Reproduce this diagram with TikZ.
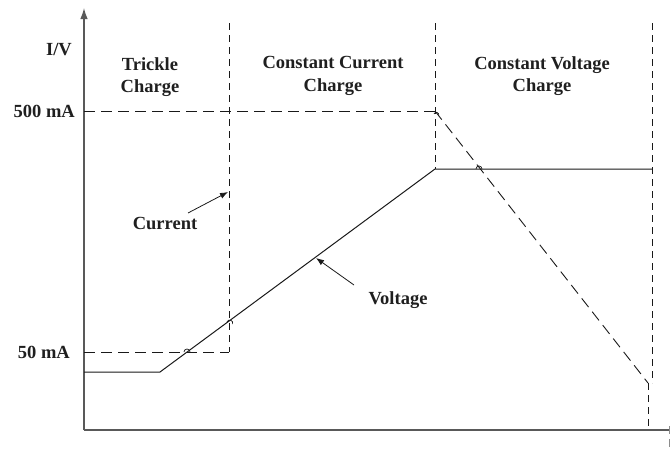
\documentclass[tikz,border=0pt]{standalone}
\usepackage{fontspec}
\setmainfont{Liberation Serif}
\usetikzlibrary{arrows.meta}
\tikzset{
  axis/.style={draw=black!65, line width=1.3pt},
  dsh/.style={draw=black!90, line width=0.9pt, dash pattern=on 7pt off 5pt},
  cdsh/.style={draw=black!90, line width=0.9pt, dash pattern=on 11pt off 6pt},
  volt/.style={draw=black!90, line width=1pt},
  lbl/.style={font=\fontsize{18.5}{22.5}\selectfont\bfseries, text=black!88, align=center, inner sep=0pt},
  pointer/.style={draw=black!90, line width=0.8pt, -{Latex[length=8pt,width=6pt]}},
  hop/.style={draw=black!90, line width=0.7pt},
  frag/.style={draw=black!45, line width=0.6pt}
}
\begin{document}
\begin{tikzpicture}[x=1pt,y=-1pt]
\useasboundingbox (0,0) rectangle (670,450);
% coordinates
\coordinate (O) at (84,430);
\coordinate (Ytop) at (84,8);
\coordinate (Xend) at (670,430);
\coordinate (s1t) at (229,23);
\coordinate (s1b) at (229,352);
\coordinate (s2t) at (435,23);
\coordinate (s2b) at (435,169);
\coordinate (s3t) at (652,23);
\coordinate (s3b) at (652,383);
\coordinate (i0) at (84,352);
\coordinate (i5) at (84,111);
\coordinate (i5e) at (435,111);
\coordinate (id) at (648,383);
\coordinate (ie) at (648,430);
\coordinate (v0) at (84,372);
\coordinate (v1) at (160,372);
\coordinate (v2) at (435,169);
\coordinate (v3) at (652,169);
% axes
\draw[axis] (O) -- (Xend);
\draw[axis, -{Latex[length=11pt,width=7.5pt]}] (O) -- (Ytop);
% small fragments at the right edge
\coordinate (f1a) at (669,426);
\coordinate (f1b) at (669,434);
\coordinate (f2a) at (669,439);
\coordinate (f2b) at (669,447);
\draw[frag] (f1a) -- (f1b);
\draw[frag] (f2a) -- (f2b);
% phase separators
\draw[dsh] (s1t) -- (s1b);
\draw[dsh] (s2t) -- (s2b);
\draw[dsh] (s3t) -- (s3b);
% current
\draw[cdsh] (i0) -- (s1b);
\draw[cdsh] (i5) -- (i5e);
\draw[cdsh] (i5e) -- (id);
\draw[dsh] (id) -- (ie);
% voltage
\draw[volt] (v0) -- (v1) -- (v2) -- (v3);
% hops
\draw[hop] (184,352) arc[start angle=180,end angle=360,radius=3];
\draw[hop] (227,322) arc[start angle=200,end angle=380,radius=3];
\draw[hop] (476,169) arc[start angle=180,end angle=360,radius=3];
\draw[hop] (434,114) arc[start angle=200,end angle=380,radius=2.5];
% labels
\node[lbl, anchor=east] (IV) at (72,50) {I/V};
\node[lbl, anchor=east] (l500) at (75,111) {500 mA};
\node[lbl, anchor=east] (l50) at (70,352) {50 mA};
\node[lbl] (tc) at (150,77) {Trickle\\Charge};
\node[lbl] (cc) at (333,76) {Constant Current\\Charge};
\node[lbl] (cv) at (542,76) {Constant Voltage\\Charge};
\node[lbl] (cur) at (165,223) {Current};
\node[lbl] (vol) at (398,300) {Voltage};
\coordinate (curtail) at (188,213);
\coordinate (curhead) at (228,192);
\coordinate (voltail) at (354,285);
\coordinate (volhead) at (316,258);
\draw[pointer] (curtail) -- (curhead);
\draw[pointer] (voltail) -- (volhead);
\end{tikzpicture}
\end{document}
